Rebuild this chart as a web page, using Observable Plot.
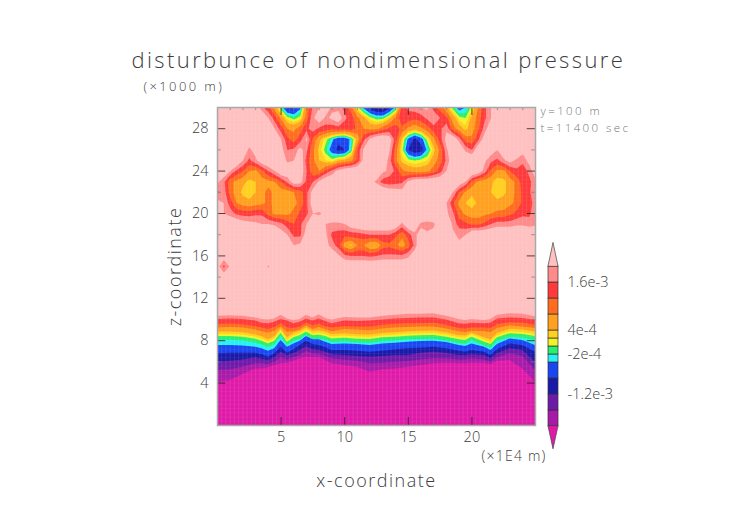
<!DOCTYPE html>
<html><head><meta charset="utf-8">
<script src="https://cdn.jsdelivr.net/npm/d3@7"></script>
<script src="https://cdn.jsdelivr.net/npm/@observablehq/plot@0.6"></script>
<style>
html,body{margin:0;padding:0;background:#fff}
#wrap{position:relative;width:752px;height:532px;overflow:hidden}
#wrap svg{position:absolute;left:0;top:0;background:transparent;overflow:visible}
.title text{letter-spacing:2.4px}
.lab text{letter-spacing:1.5px}
.note text{letter-spacing:1.2px}
.note2 text{letter-spacing:2.4px}
</style></head><body><div id="wrap"></div>
<script>
// values in units of 1e-4
const thresholds=[-20,-16,-12,-8,-4,-2,0,2,4,8,12,16,20];
const colors=["#e01aa8","#a81aa8","#6e1aa8","#1a1aa8","#1a46f2","#28f0f0","#28f06e","#f2f228","#ffd01e","#ffa01e","#ff6c1e","#ff3a3a","#ff8a8a","#ffc0c0"];
const tickX=[5,10,15,20], tickZ=[4,8,12,16,20,24,28];
const minorX=[1,2,3,4,6,7,8,9,11,12,13,14,16,17,18,19,21,22,23,24], minorZ=[2,6,10,14,18,22,26];
const barTicks=[16,4,-2,-12], barLabels=["1.6e-3","4e-4","-2e-4","-1.2e-3"];

// field above the lower band: one row per z, x = 0,0.5,...,25
const z30=[26,26,26,26,26,26,24,17,13,6, -2,-9,-9,-5,8,17,20,24,19,18, 15,10,1,-5,-10,-13,-13,-9,-3,13, 17,18,20,21,14,10,5,-1,-6,-4, 1,8,15,20,26,26,26,26,26,26,26];
const z29=[26,26,26,26,26,26,26,26,20,14, 7,1,-1,1,10,19,24,19,21,24, 17,14,9,5,1,-1,-1,3,9,15, 14,13,14,17,20,16,13,6,1,0, 5,10,15,20,26,26,26,26,26,26,26];
const z28=[26,26,26,26,26,26,26,26,25,20, 14,8,7,10,15,18,15,14,13,14, 13,14,11,8,7,7,10,13,14,11, 7,5,7,10,14,15,19,10,6,3, 6,11,18,24,26,26,26,26,26,26,26];
const z27=[26,26,26,26,26,23,26,26,26,26, 20,13,10,14,21,11,5,1,-3,-7, -7,-3,5,15,21,25,26,23,14,3, -5,-9,-6,1,7,14,22,25,18,10, 9,15,23,26,24,26,26,26,26,26,26];
const z26=[26,26,26,26,23,19,22,26,26,26, 22,16,17,22,17,9,3,-1,-6,-9, -8,-2,13,21,25,26,26,21,10,1, -8,-11,-10,-3,3,9,19,25,26,19, 16,25,26,23,20,24,26,26,22,26,26];
const z25=[26,26,26,26,20,15,19,24,26,26, 24,19,20,25,14,9,4,2,1,4, 5,7,13,22,26,26,25,18,9,3, 1,0,1,2,6,10,17,24,26,26, 26,26,21,17,15,19,22,19,17,22,26];
const z24=[26,24,20,15,12,8,7,11,16,20, 25,24,26,24,16,9,8,13,17,22, 25,26,26,26,26,25,21,19,15,9, 7,6,6,7,10,14,20,26,26,26, 26,24,18,11,7,7,12,15,14,17,24];
const z23=[21,17,9,7,5,3,4,6,7,8, 12,17,23,22,15,16,21,25,26,26, 26,26,21,23,22,19,14,13,14,15, 21,24,25,25,26,26,26,26,24,20, 11,7,6,5,2,3,6,9,14,15,18];
const z22=[15,18,10,6,3,2,4,7,9,7, 6,6,8,10,15,22,26,26,26,26, 26,26,26,26,26,26,26,24,23,22, 25,26,26,26,26,26,26,20,12,7, 5,5,6,4,2,3,6,9,13,15,20];
const z21=[22,20,14,8,6,5,6,7,9,7, 5,5,7,9,15,23,26,26,26,26, 26,26,26,26,26,26,26,26,26,26, 26,26,26,26,26,26,20,13,7,4, 2,5,6,6,5,6,7,9,13,15,17];
const z20=[26,20,18,15,14,14,15,15,10,7, 7,7,9,13,15,20,19,22,26,26, 26,26,26,26,26,26,26,26,26,26, 26,26,26,26,26,26,21,17,10,7, 6,6,7,8,9,9,11,13,15,15,19];
const z19=[26,26,26,25,23,22,21,20,20,19, 17,14,12,15,20,24,25,20,19,19, 20,23,25,26,26,26,26,26,25,19, 25,24,19,18,19,25,26,19,14,13, 11,11,13,16,18,18,18,19,19,18,19];
const z18=[26,26,26,26,26,26,26,26,26,26, 23,20,15,15,23,26,26,21,15,14, 13,14,14,15,16,16,16,16,13,9, 14,19,22,21,22,26,26,21,19,20, 26,26,26,26,26,26,26,26,26,26,26];
const z17=[26,26,26,26,26,26,26,26,26,26, 26,22,20,21,26,26,26,22,18,14, 6,3,8,8,4,4,10,11,9,6, 10,17,26,26,26,26,26,24,21,24, 26,26,26,26,26,26,26,26,26,26,26];
const z16=[26,23,26,26,26,26,26,26,26,26, 26,26,26,26,26,26,26,26,24,21, 17,16,16,16,15,16,17,17,17,17, 19,24,26,26,26,26,26,26,26,26, 26,26,26,26,26,26,26,26,26,26,26];
const z15=[22,15,21,26,26,26,26,26,19,26, 26,26,26,26,26,26,26,26,26,26, 26,26,26,26,26,26,26,26,26,26, 26,26,26,26,26,26,26,26,26,26, 26,26,26,26,26,26,26,26,26,26,20];
const z14=[26,24,26,26,26,26,26,26,26,26, 26,26,26,26,26,26,26,26,26,26, 26,26,26,26,26,26,26,26,26,26, 26,26,26,26,26,26,26,26,26,26, 26,26,26,26,26,26,26,26,26,26,26];

// lower band: height (z) of each contour level at bandX
const bandX=[0,1,2,3,3.5,4,4.5,5,5.5,6,6.5,7,7.5,8,8.5,9,10,11,12,13,14,15,16,17,18,19,19.5,20,21,21.5,22,23,24,25];
const calmTop=[14,14,14,14,14,14,14,14,14,14,14,14,14,14,14,14,14,14,14,14,14,14,14,14,14,14,14,14,14,14,14,14,14,14];
const lv20=[10.3,10.35,10.3,10.15,10.0,9.95,10.05,10.4,10.05,9.9,10.0,10.4,10.15,10.45,10.1,9.95,10.2,10.15,10.15,10.3,10.4,10.5,10.5,10.55,10.3,10.0,9.9,10.0,9.9,10.0,10.4,10.55,10.5,10.25];
const lv16=[10.0,10.05,10.0,9.85,9.65,9.6,9.75,10.0,9.85,9.6,9.75,10.05,9.85,10.05,9.8,9.6,9.85,9.8,9.85,9.95,10.05,10.1,10.15,10.15,9.95,9.6,9.55,9.65,9.6,9.65,10.05,10.15,10.1,9.9];
const lv12=[9.53,9.55,9.5,9.35,9.2,9.05,9.25,9.6,9.2,9.15,9.3,9.65,9.4,9.55,9.35,9.2,9.35,9.3,9.3,9.45,9.55,9.6,9.6,9.65,9.45,9.15,9.1,9.2,9.2,9.15,9.5,9.7,9.65,9.45];
const lv8=[9.2,9.25,9.2,9.0,8.85,8.7,8.9,9.3,8.8,8.85,9.0,9.4,9.05,9.25,9.05,8.85,9.05,9.0,8.95,9.1,9.2,9.25,9.3,9.3,9.1,8.85,8.75,8.9,8.85,8.75,9.15,9.4,9.3,9.15];
const lv4=[8.81,8.81,8.75,8.56,8.37,8.12,8.37,9.1,8.28,8.69,8.88,9.2,8.88,8.94,8.81,8.59,8.66,8.56,8.53,8.69,8.75,8.85,8.88,8.91,8.75,8.5,8.44,8.7,8.28,8.1,8.69,9.07,9.0,8.81];
const lv2=[8.59,8.59,8.53,8.34,8.15,7.9,8.15,8.92,8.06,8.47,8.66,9.03,8.66,8.72,8.59,8.37,8.44,8.34,8.31,8.47,8.53,8.63,8.66,8.69,8.53,8.28,8.22,8.55,8.06,7.84,8.47,8.85,8.78,8.59];
const lv0=[8.39,8.39,8.33,8.14,7.95,7.7,7.95,8.71,7.86,8.27,8.46,8.83,8.46,8.52,8.39,8.17,8.24,8.14,8.11,8.27,8.33,8.43,8.46,8.49,8.33,8.08,8.02,8.33,7.86,7.64,8.27,8.65,8.58,8.39];
const lvm2=[8.04,8.04,7.98,7.79,7.6,7.35,7.6,8.4,7.55,7.92,8.11,8.48,8.11,8.17,8.04,7.82,7.89,7.79,7.76,7.92,7.98,8.08,8.11,8.14,7.98,7.73,7.67,8.0,7.51,7.29,7.92,8.3,8.23,8.04];
const lvm4=[7.54,7.54,7.51,7.39,7.23,7.01,7.23,8.02,7.39,7.70,7.95,8.39,8.08,8.08,7.86,7.64,7.70,7.64,7.54,7.70,7.76,7.86,7.92,7.95,7.83,7.54,7.45,7.70,7.39,7.07,7.64,8.17,8.02,7.54];
const lvm8=[6.76,6.82,6.82,6.82,6.70,6.44,6.76,7.39,6.82,7.14,7.54,7.95,7.64,7.54,7.33,7.07,7.07,7.01,6.92,7.01,7.14,7.23,7.29,7.39,7.23,7.01,6.92,7.07,6.92,6.60,7.14,7.70,7.54,6.92];
const lvm12=[5.97,6.07,6.19,6.38,6.26,6.13,6.38,6.92,6.60,6.76,7.07,7.45,7.14,7.07,6.92,6.70,6.60,6.51,6.44,6.51,6.60,6.60,6.82,6.92,6.82,6.60,6.60,6.70,6.60,6.29,6.76,7.23,7.07,5.97];
const lvm16=[5.19,5.25,5.50,5.82,5.82,5.75,5.97,6.38,6.19,6.38,6.60,7.01,6.76,6.70,6.51,6.29,6.19,6.07,5.82,5.88,5.97,6.03,6.19,6.29,6.29,6.19,6.19,6.29,6.19,5.97,6.38,6.76,6.51,5.19];
const lvm20=[4.09,4.24,4.81,5.34,5.34,5.44,5.66,5.82,5.88,6.07,6.29,6.44,6.38,6.38,6.13,5.82,5.66,5.50,5.03,5.25,5.34,5.50,5.66,5.82,5.88,5.82,5.82,5.88,5.88,5.75,6.07,6.13,5.34,4.09];
const floorBump=[0,0,0,0,0,0,0,0,0,0.05,0.3,0.45,0.6,0.65,0.7,0.6,0.2,0,0,0.05,0.4,0.8,0.6,0.65,0.2,0,0,0,0,0,0,0,0,0];

const fieldRows=[z30,z29,z28,z27,z26,z25,z24,z23,z22,z21,z20,z19,z18,z17,z16,z15,z14];
const field=fieldRows.flat();
const levelSeries=[[calmTop,21],[lv20,16],[lv16,12],[lv12,8],[lv8,4],[lv4,2],[lv2,0],[lv0,-2],[lvm2,-4],[lvm4,-8],[lvm8,-12],[lvm12,-16],[lvm16,-20],[lvm20,-21],[floorBump,-20.5]];
const bandRows=levelSeries.flatMap(([a,v],k)=>a.map((z,i)=>({x:bandX[i],z,band:v,k})));
const color={type:"threshold",domain:thresholds,range:colors};
const gray="#3c3c3c", font="'Open Sans'";
// faint lattice of the plotting cells
const latticeX=d3.range(0.33,25,0.333), latticeZ=d3.range(0.4,30,0.4);

const main=Plot.plot({
  width:752,height:532,marginLeft:217,marginRight:217,marginTop:107,marginBottom:107,
  style:{background:"transparent",fontFamily:font},
  x:{domain:[0,25],label:null},y:{domain:[0,30],label:null},color,
  marks:[
    Plot.frame({fill:colors[13],stroke:"none"}),
    Plot.contour(field,{width:51,height:17,x1:-0.25,x2:25.25,y1:30.5,y2:13.5,fill:Plot.identity,stroke:"none",thresholds,clip:true}),
    Plot.areaY(bandRows,{x:"x",y1:0,y2:"z",z:"k",fill:"band",curve:"linear"}),
    Plot.ruleX(latticeX,{stroke:"#fff",strokeOpacity:0.1,strokeWidth:1}),
    Plot.ruleY(latticeZ,{stroke:"#fff",strokeOpacity:0.05,strokeWidth:1}),
    Plot.ruleX(minorX,{y1:0,y2:0.3,stroke:"#777",strokeWidth:0.7}),
    Plot.ruleX(minorX,{y1:29.7,y2:30,stroke:"#777",strokeWidth:0.7}),
    Plot.ruleX(tickX,{y1:0,y2:0.75,stroke:"#222",strokeWidth:0.8}),
    Plot.ruleX(tickX,{y1:29.25,y2:30,stroke:"#222",strokeWidth:0.8}),
    Plot.ruleY(minorZ,{x1:0,x2:0.3,stroke:"#777",strokeWidth:0.7}),
    Plot.ruleY(minorZ,{x1:24.7,x2:25,stroke:"#777",strokeWidth:0.7}),
    Plot.ruleY(tickZ,{x1:0,x2:0.65,stroke:"#222",strokeWidth:0.8}),
    Plot.ruleY(tickZ,{x1:24.35,x2:25,stroke:"#222",strokeWidth:0.8}),
    Plot.frame({stroke:"#a8a8a8",strokeWidth:1.5}),
    Plot.axisX(tickX,{anchor:"bottom",tickSize:0,tickPadding:6,fontSize:14.5,fontWeight:300,fill:gray,label:null}),
    Plot.axisY(tickZ,{anchor:"left",tickSize:0,tickPadding:9,fontSize:14.5,fontWeight:300,fill:gray,label:null}),
    Plot.text(["disturbunce of nondimensional pressure"],{frameAnchor:"top-left",dx:-86,dy:-47,textAnchor:"start",lineAnchor:"middle",fontSize:22,fontWeight:300,fill:gray,className:"title"}),
    Plot.text(["(×1000 m)"],{frameAnchor:"top-left",dx:-74,dy:-21,textAnchor:"start",lineAnchor:"middle",fontSize:13,fontWeight:300,fill:gray,className:"note2"}),
    Plot.text(["y=100 m"],{frameAnchor:"top-right",dx:5,dy:4,textAnchor:"start",lineAnchor:"middle",fontSize:11.5,fontWeight:300,fill:"#777",className:"note2"}),
    Plot.text(["t=11400 sec"],{frameAnchor:"top-right",dx:5,dy:21,textAnchor:"start",lineAnchor:"middle",fontSize:11.5,fontWeight:300,fill:"#777",className:"note2"}),
    Plot.text(["(×1E4 m)"],{frameAnchor:"bottom-right",dx:11,dy:31,textAnchor:"end",lineAnchor:"middle",fontSize:14,fontWeight:300,fill:gray,className:"note"}),
    Plot.text(["x-coordinate"],{frameAnchor:"bottom",dy:56,lineAnchor:"middle",fontSize:18,fontWeight:300,fill:gray,className:"lab"}),
    Plot.text(["z-coordinate"],{frameAnchor:"left",dx:-42,rotate:-90,textAnchor:"middle",lineAnchor:"middle",fontSize:18,fontWeight:300,fill:gray,className:"lab"})
  ]
});

const barBottom=thresholds.slice(0,-1).map((t,i)=>({y1:t,y2:thresholds[i+1]}));
const triUp=[{y:20,a:0,b:1},{y:25.9,a:0.5,b:0.5}], triDown=[{y:-20,a:0,b:1},{y:-25.7,a:0.5,b:0.5}];
const bar=Plot.plot({
  width:752,height:532,marginLeft:548,marginRight:194,marginTop:266,marginBottom:106,
  style:{background:"transparent",fontFamily:font},
  x:{domain:[0,1],axis:null},y:{domain:[-20,20],label:null},color,
  marks:[
    Plot.rect(barBottom,{x1:0,x2:1,y1:"y1",y2:"y2",fill:"y1",stroke:"#333",strokeWidth:0.7}),
    Plot.areaX(triUp,{y:"y",x1:"a",x2:"b",fill:colors[13],stroke:"#444",strokeWidth:0.7}),
    Plot.areaX(triDown,{y:"y",x1:"a",x2:"b",fill:colors[0],stroke:"#444",strokeWidth:0.7}),
    Plot.axisY(barTicks,{anchor:"right",tickSize:0,tickPadding:9,fontSize:14.5,fontWeight:300,fill:gray,label:null,tickFormat:d=>barLabels[barTicks.indexOf(d)]})
  ]
});
document.getElementById("wrap").append(main,bar);
</script></body></html>
